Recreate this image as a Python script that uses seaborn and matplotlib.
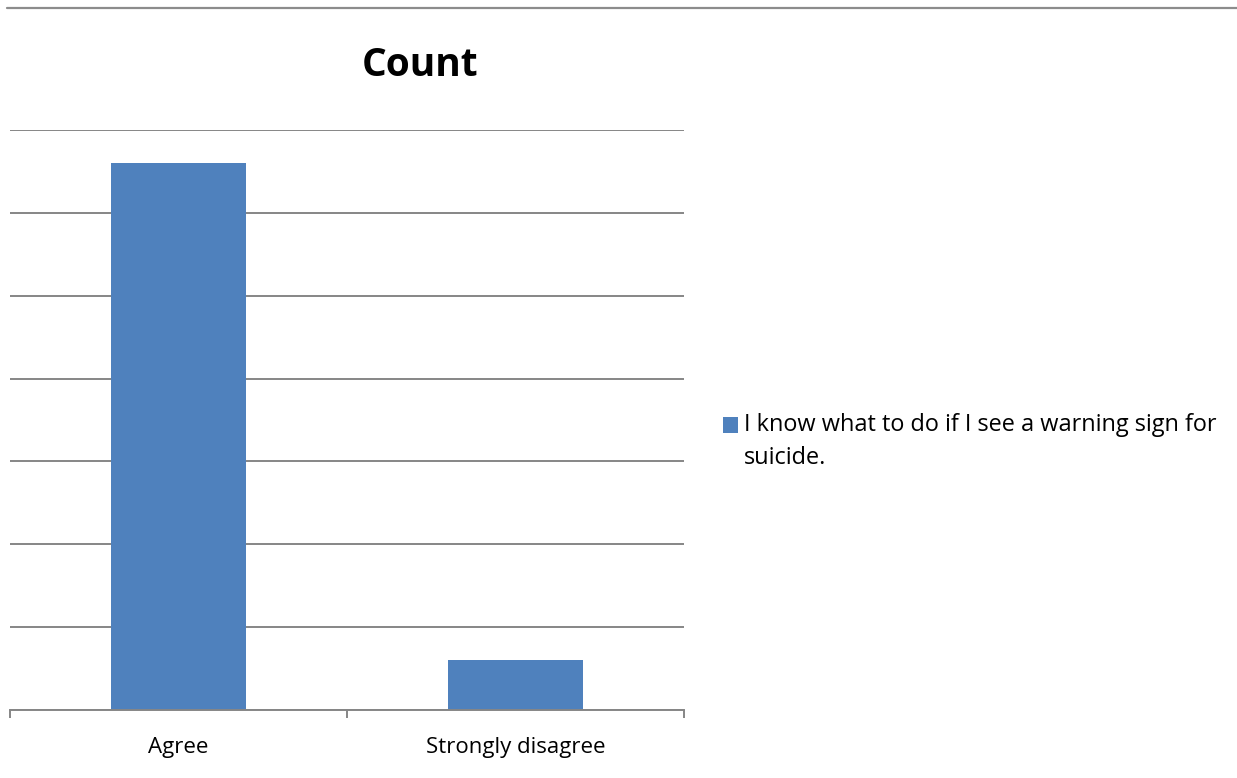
import matplotlib
matplotlib.use("Agg")
import matplotlib.pyplot as plt
from matplotlib.lines import Line2D
from matplotlib.patches import Rectangle
from matplotlib.legend_handler import HandlerPatch
import seaborn as sns
import pandas as pd

# values
categories = ["Agree", "Strongly disagree"]
counts = [33, 3]
series_name = "I know what to do if I see a warning sign for\nsuicide."

df = pd.DataFrame({"answer": categories, "count": counts})

sns.set_style("white")
plt.rcParams["font.family"] = ["Open Sans", "DejaVu Sans"]
plt.rcParams["text.color"] = "black"
plt.rcParams["xtick.color"] = "black"

fig = plt.figure(figsize=(12.37, 7.78), dpi=100)
ax = fig.add_axes([10 / 1237, 1 - 710 / 778, 674 / 1237, 580 / 778])

sns.barplot(data=df, x="answer", y="count", color="#4F81BD", width=0.4,
            saturation=1, ax=ax, label=series_name, zorder=2,
            edgecolor="none", linewidth=0, legend=False)

ax.set_ylim(0, 35)
ax.set_yticks(range(0, 36, 5))
ax.set_xlim(-0.5, 1.5)
ax.yaxis.grid(True, color="#868686", linewidth=1.4, zorder=0)
ax.set_axisbelow(True)
ax.tick_params(axis="y", left=False, labelleft=False)
ax.set_xticks([-0.5, 0.5, 1.5], minor=True)
ax.tick_params(axis="x", which="minor", bottom=True, length=6, width=1.4, color="#868686")
ax.tick_params(axis="x", which="major", bottom=False, labelsize=16, pad=16, labelcolor="black")
for s in ["top", "right", "left"]:
    ax.spines[s].set_visible(False)
ax.spines["bottom"].set_color("#868686")
ax.spines["bottom"].set_linewidth(1.4)
ax.set_xlabel("")
ax.set_ylabel("")

if ax.get_legend() is not None:
    ax.get_legend().remove()

fig.text(420 / 1237, 1 - 66 / 778, "Count", ha="center", va="center",
         fontsize=28, fontweight="bold")

# thin rule across the top of the picture
fig.add_artist(Line2D([7 / 1237, 1], [1 - 8 / 778, 1 - 8 / 778],
                      color="#8c8c8c", linewidth=1.6, transform=fig.transFigure))


# square sits next to the first line of the wrapped label, like Excel
def top_square(legend, orig_handle, xdescent, ydescent, width, height, fontsize):
    shift = 0.5 * 1.5 * fontsize
    return Rectangle((-xdescent, -ydescent + shift), width, height)


bar = ax.patches[0]
leg = fig.legend([bar], [series_name], loc="upper left",
                 bbox_to_anchor=(714 / 1237, 1 - 404 / 778),
                 frameon=False, fontsize=16.9, handlelength=0.62, handleheight=0.62,
                 handletextpad=0.25, borderaxespad=0, labelspacing=0,
                 handler_map={Rectangle: HandlerPatch(patch_func=top_square)})
for t in leg.get_texts():
    t.set_linespacing(1.5)

fig.savefig("out.png", dpi=100)
